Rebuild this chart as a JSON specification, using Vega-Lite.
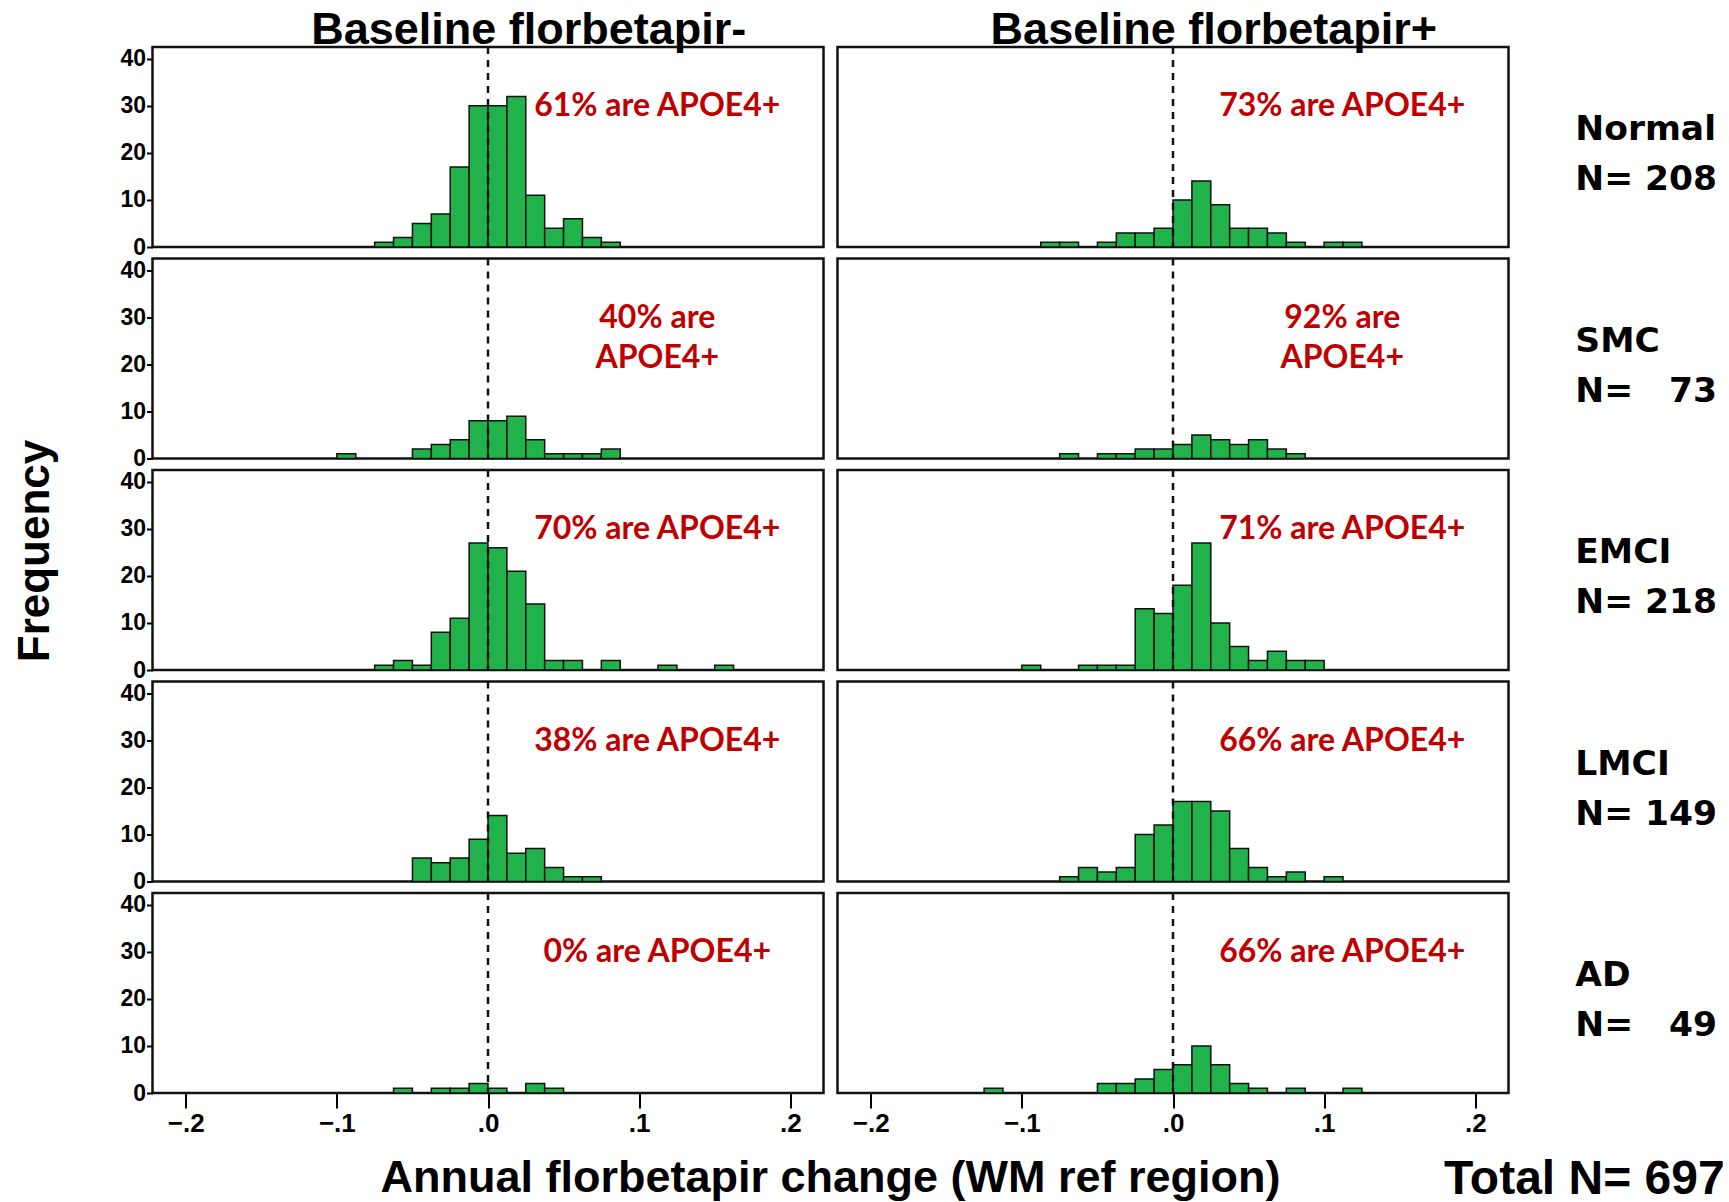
{
  "$schema": "https://vega.github.io/schema/vega-lite/v6.json",
  "background": "white",
  "padding": {"left": 13.5, "top": 6, "right": 5, "bottom": 0},
  "data": {"values": [
    {"s": "Baseline florbetapir-", "g": "Normal|N= 208", "lo": -0.075, "hi": -0.0625, "n": 1},
    {"s": "Baseline florbetapir-", "g": "Normal|N= 208", "lo": -0.0625, "hi": -0.05, "n": 2},
    {"s": "Baseline florbetapir-", "g": "Normal|N= 208", "lo": -0.05, "hi": -0.0375, "n": 5},
    {"s": "Baseline florbetapir-", "g": "Normal|N= 208", "lo": -0.0375, "hi": -0.025, "n": 7},
    {"s": "Baseline florbetapir-", "g": "Normal|N= 208", "lo": -0.025, "hi": -0.0125, "n": 17},
    {"s": "Baseline florbetapir-", "g": "Normal|N= 208", "lo": -0.0125, "hi": 0, "n": 30},
    {"s": "Baseline florbetapir-", "g": "Normal|N= 208", "lo": 0, "hi": 0.0125, "n": 30},
    {"s": "Baseline florbetapir-", "g": "Normal|N= 208", "lo": 0.0125, "hi": 0.025, "n": 32},
    {"s": "Baseline florbetapir-", "g": "Normal|N= 208", "lo": 0.025, "hi": 0.0375, "n": 11},
    {"s": "Baseline florbetapir-", "g": "Normal|N= 208", "lo": 0.0375, "hi": 0.05, "n": 4},
    {"s": "Baseline florbetapir-", "g": "Normal|N= 208", "lo": 0.05, "hi": 0.0625, "n": 6},
    {"s": "Baseline florbetapir-", "g": "Normal|N= 208", "lo": 0.0625, "hi": 0.075, "n": 2},
    {"s": "Baseline florbetapir-", "g": "Normal|N= 208", "lo": 0.075, "hi": 0.0875, "n": 1},
    {"s": "Baseline florbetapir+", "g": "Normal|N= 208", "lo": -0.0875, "hi": -0.075, "n": 1},
    {"s": "Baseline florbetapir+", "g": "Normal|N= 208", "lo": -0.075, "hi": -0.0625, "n": 1},
    {"s": "Baseline florbetapir+", "g": "Normal|N= 208", "lo": -0.05, "hi": -0.0375, "n": 1},
    {"s": "Baseline florbetapir+", "g": "Normal|N= 208", "lo": -0.0375, "hi": -0.025, "n": 3},
    {"s": "Baseline florbetapir+", "g": "Normal|N= 208", "lo": -0.025, "hi": -0.0125, "n": 3},
    {"s": "Baseline florbetapir+", "g": "Normal|N= 208", "lo": -0.0125, "hi": 0, "n": 4},
    {"s": "Baseline florbetapir+", "g": "Normal|N= 208", "lo": 0, "hi": 0.0125, "n": 10},
    {"s": "Baseline florbetapir+", "g": "Normal|N= 208", "lo": 0.0125, "hi": 0.025, "n": 14},
    {"s": "Baseline florbetapir+", "g": "Normal|N= 208", "lo": 0.025, "hi": 0.0375, "n": 9},
    {"s": "Baseline florbetapir+", "g": "Normal|N= 208", "lo": 0.0375, "hi": 0.05, "n": 4},
    {"s": "Baseline florbetapir+", "g": "Normal|N= 208", "lo": 0.05, "hi": 0.0625, "n": 4},
    {"s": "Baseline florbetapir+", "g": "Normal|N= 208", "lo": 0.0625, "hi": 0.075, "n": 3},
    {"s": "Baseline florbetapir+", "g": "Normal|N= 208", "lo": 0.075, "hi": 0.0875, "n": 1},
    {"s": "Baseline florbetapir+", "g": "Normal|N= 208", "lo": 0.1, "hi": 0.1125, "n": 1},
    {"s": "Baseline florbetapir+", "g": "Normal|N= 208", "lo": 0.1125, "hi": 0.125, "n": 1},
    {"s": "Baseline florbetapir-", "g": "SMC|N= \u200773", "lo": -0.1, "hi": -0.0875, "n": 1},
    {"s": "Baseline florbetapir-", "g": "SMC|N= \u200773", "lo": -0.05, "hi": -0.0375, "n": 2},
    {"s": "Baseline florbetapir-", "g": "SMC|N= \u200773", "lo": -0.0375, "hi": -0.025, "n": 3},
    {"s": "Baseline florbetapir-", "g": "SMC|N= \u200773", "lo": -0.025, "hi": -0.0125, "n": 4},
    {"s": "Baseline florbetapir-", "g": "SMC|N= \u200773", "lo": -0.0125, "hi": 0, "n": 8},
    {"s": "Baseline florbetapir-", "g": "SMC|N= \u200773", "lo": 0, "hi": 0.0125, "n": 8},
    {"s": "Baseline florbetapir-", "g": "SMC|N= \u200773", "lo": 0.0125, "hi": 0.025, "n": 9},
    {"s": "Baseline florbetapir-", "g": "SMC|N= \u200773", "lo": 0.025, "hi": 0.0375, "n": 4},
    {"s": "Baseline florbetapir-", "g": "SMC|N= \u200773", "lo": 0.0375, "hi": 0.05, "n": 1},
    {"s": "Baseline florbetapir-", "g": "SMC|N= \u200773", "lo": 0.05, "hi": 0.0625, "n": 1},
    {"s": "Baseline florbetapir-", "g": "SMC|N= \u200773", "lo": 0.0625, "hi": 0.075, "n": 1},
    {"s": "Baseline florbetapir-", "g": "SMC|N= \u200773", "lo": 0.075, "hi": 0.0875, "n": 2},
    {"s": "Baseline florbetapir+", "g": "SMC|N= \u200773", "lo": -0.075, "hi": -0.0625, "n": 1},
    {"s": "Baseline florbetapir+", "g": "SMC|N= \u200773", "lo": -0.05, "hi": -0.0375, "n": 1},
    {"s": "Baseline florbetapir+", "g": "SMC|N= \u200773", "lo": -0.0375, "hi": -0.025, "n": 1},
    {"s": "Baseline florbetapir+", "g": "SMC|N= \u200773", "lo": -0.025, "hi": -0.0125, "n": 2},
    {"s": "Baseline florbetapir+", "g": "SMC|N= \u200773", "lo": -0.0125, "hi": 0, "n": 2},
    {"s": "Baseline florbetapir+", "g": "SMC|N= \u200773", "lo": 0, "hi": 0.0125, "n": 3},
    {"s": "Baseline florbetapir+", "g": "SMC|N= \u200773", "lo": 0.0125, "hi": 0.025, "n": 5},
    {"s": "Baseline florbetapir+", "g": "SMC|N= \u200773", "lo": 0.025, "hi": 0.0375, "n": 4},
    {"s": "Baseline florbetapir+", "g": "SMC|N= \u200773", "lo": 0.0375, "hi": 0.05, "n": 3},
    {"s": "Baseline florbetapir+", "g": "SMC|N= \u200773", "lo": 0.05, "hi": 0.0625, "n": 4},
    {"s": "Baseline florbetapir+", "g": "SMC|N= \u200773", "lo": 0.0625, "hi": 0.075, "n": 2},
    {"s": "Baseline florbetapir+", "g": "SMC|N= \u200773", "lo": 0.075, "hi": 0.0875, "n": 1},
    {"s": "Baseline florbetapir-", "g": "EMCI|N= 218", "lo": -0.075, "hi": -0.0625, "n": 1},
    {"s": "Baseline florbetapir-", "g": "EMCI|N= 218", "lo": -0.0625, "hi": -0.05, "n": 2},
    {"s": "Baseline florbetapir-", "g": "EMCI|N= 218", "lo": -0.05, "hi": -0.0375, "n": 1},
    {"s": "Baseline florbetapir-", "g": "EMCI|N= 218", "lo": -0.0375, "hi": -0.025, "n": 8},
    {"s": "Baseline florbetapir-", "g": "EMCI|N= 218", "lo": -0.025, "hi": -0.0125, "n": 11},
    {"s": "Baseline florbetapir-", "g": "EMCI|N= 218", "lo": -0.0125, "hi": 0, "n": 27},
    {"s": "Baseline florbetapir-", "g": "EMCI|N= 218", "lo": 0, "hi": 0.0125, "n": 26},
    {"s": "Baseline florbetapir-", "g": "EMCI|N= 218", "lo": 0.0125, "hi": 0.025, "n": 21},
    {"s": "Baseline florbetapir-", "g": "EMCI|N= 218", "lo": 0.025, "hi": 0.0375, "n": 14},
    {"s": "Baseline florbetapir-", "g": "EMCI|N= 218", "lo": 0.0375, "hi": 0.05, "n": 2},
    {"s": "Baseline florbetapir-", "g": "EMCI|N= 218", "lo": 0.05, "hi": 0.0625, "n": 2},
    {"s": "Baseline florbetapir-", "g": "EMCI|N= 218", "lo": 0.075, "hi": 0.0875, "n": 2},
    {"s": "Baseline florbetapir-", "g": "EMCI|N= 218", "lo": 0.1125, "hi": 0.125, "n": 1},
    {"s": "Baseline florbetapir-", "g": "EMCI|N= 218", "lo": 0.15, "hi": 0.1625, "n": 1},
    {"s": "Baseline florbetapir+", "g": "EMCI|N= 218", "lo": -0.1, "hi": -0.0875, "n": 1},
    {"s": "Baseline florbetapir+", "g": "EMCI|N= 218", "lo": -0.0625, "hi": -0.05, "n": 1},
    {"s": "Baseline florbetapir+", "g": "EMCI|N= 218", "lo": -0.05, "hi": -0.0375, "n": 1},
    {"s": "Baseline florbetapir+", "g": "EMCI|N= 218", "lo": -0.0375, "hi": -0.025, "n": 1},
    {"s": "Baseline florbetapir+", "g": "EMCI|N= 218", "lo": -0.025, "hi": -0.0125, "n": 13},
    {"s": "Baseline florbetapir+", "g": "EMCI|N= 218", "lo": -0.0125, "hi": 0, "n": 12},
    {"s": "Baseline florbetapir+", "g": "EMCI|N= 218", "lo": 0, "hi": 0.0125, "n": 18},
    {"s": "Baseline florbetapir+", "g": "EMCI|N= 218", "lo": 0.0125, "hi": 0.025, "n": 27},
    {"s": "Baseline florbetapir+", "g": "EMCI|N= 218", "lo": 0.025, "hi": 0.0375, "n": 10},
    {"s": "Baseline florbetapir+", "g": "EMCI|N= 218", "lo": 0.0375, "hi": 0.05, "n": 5},
    {"s": "Baseline florbetapir+", "g": "EMCI|N= 218", "lo": 0.05, "hi": 0.0625, "n": 2},
    {"s": "Baseline florbetapir+", "g": "EMCI|N= 218", "lo": 0.0625, "hi": 0.075, "n": 4},
    {"s": "Baseline florbetapir+", "g": "EMCI|N= 218", "lo": 0.075, "hi": 0.0875, "n": 2},
    {"s": "Baseline florbetapir+", "g": "EMCI|N= 218", "lo": 0.0875, "hi": 0.1, "n": 2},
    {"s": "Baseline florbetapir-", "g": "LMCI|N= 149", "lo": -0.05, "hi": -0.0375, "n": 5},
    {"s": "Baseline florbetapir-", "g": "LMCI|N= 149", "lo": -0.0375, "hi": -0.025, "n": 4},
    {"s": "Baseline florbetapir-", "g": "LMCI|N= 149", "lo": -0.025, "hi": -0.0125, "n": 5},
    {"s": "Baseline florbetapir-", "g": "LMCI|N= 149", "lo": -0.0125, "hi": 0, "n": 9},
    {"s": "Baseline florbetapir-", "g": "LMCI|N= 149", "lo": 0, "hi": 0.0125, "n": 14},
    {"s": "Baseline florbetapir-", "g": "LMCI|N= 149", "lo": 0.0125, "hi": 0.025, "n": 6},
    {"s": "Baseline florbetapir-", "g": "LMCI|N= 149", "lo": 0.025, "hi": 0.0375, "n": 7},
    {"s": "Baseline florbetapir-", "g": "LMCI|N= 149", "lo": 0.0375, "hi": 0.05, "n": 3},
    {"s": "Baseline florbetapir-", "g": "LMCI|N= 149", "lo": 0.05, "hi": 0.0625, "n": 1},
    {"s": "Baseline florbetapir-", "g": "LMCI|N= 149", "lo": 0.0625, "hi": 0.075, "n": 1},
    {"s": "Baseline florbetapir+", "g": "LMCI|N= 149", "lo": -0.075, "hi": -0.0625, "n": 1},
    {"s": "Baseline florbetapir+", "g": "LMCI|N= 149", "lo": -0.0625, "hi": -0.05, "n": 3},
    {"s": "Baseline florbetapir+", "g": "LMCI|N= 149", "lo": -0.05, "hi": -0.0375, "n": 2},
    {"s": "Baseline florbetapir+", "g": "LMCI|N= 149", "lo": -0.0375, "hi": -0.025, "n": 3},
    {"s": "Baseline florbetapir+", "g": "LMCI|N= 149", "lo": -0.025, "hi": -0.0125, "n": 10},
    {"s": "Baseline florbetapir+", "g": "LMCI|N= 149", "lo": -0.0125, "hi": 0, "n": 12},
    {"s": "Baseline florbetapir+", "g": "LMCI|N= 149", "lo": 0, "hi": 0.0125, "n": 17},
    {"s": "Baseline florbetapir+", "g": "LMCI|N= 149", "lo": 0.0125, "hi": 0.025, "n": 17},
    {"s": "Baseline florbetapir+", "g": "LMCI|N= 149", "lo": 0.025, "hi": 0.0375, "n": 15},
    {"s": "Baseline florbetapir+", "g": "LMCI|N= 149", "lo": 0.0375, "hi": 0.05, "n": 7},
    {"s": "Baseline florbetapir+", "g": "LMCI|N= 149", "lo": 0.05, "hi": 0.0625, "n": 3},
    {"s": "Baseline florbetapir+", "g": "LMCI|N= 149", "lo": 0.0625, "hi": 0.075, "n": 1},
    {"s": "Baseline florbetapir+", "g": "LMCI|N= 149", "lo": 0.075, "hi": 0.0875, "n": 2},
    {"s": "Baseline florbetapir+", "g": "LMCI|N= 149", "lo": 0.1, "hi": 0.1125, "n": 1},
    {"s": "Baseline florbetapir-", "g": "AD|N= \u200749", "lo": -0.0625, "hi": -0.05, "n": 1},
    {"s": "Baseline florbetapir-", "g": "AD|N= \u200749", "lo": -0.0375, "hi": -0.025, "n": 1},
    {"s": "Baseline florbetapir-", "g": "AD|N= \u200749", "lo": -0.025, "hi": -0.0125, "n": 1},
    {"s": "Baseline florbetapir-", "g": "AD|N= \u200749", "lo": -0.0125, "hi": 0, "n": 2},
    {"s": "Baseline florbetapir-", "g": "AD|N= \u200749", "lo": 0, "hi": 0.0125, "n": 1},
    {"s": "Baseline florbetapir-", "g": "AD|N= \u200749", "lo": 0.025, "hi": 0.0375, "n": 2},
    {"s": "Baseline florbetapir-", "g": "AD|N= \u200749", "lo": 0.0375, "hi": 0.05, "n": 1},
    {"s": "Baseline florbetapir+", "g": "AD|N= \u200749", "lo": -0.125, "hi": -0.1125, "n": 1},
    {"s": "Baseline florbetapir+", "g": "AD|N= \u200749", "lo": -0.05, "hi": -0.0375, "n": 2},
    {"s": "Baseline florbetapir+", "g": "AD|N= \u200749", "lo": -0.0375, "hi": -0.025, "n": 2},
    {"s": "Baseline florbetapir+", "g": "AD|N= \u200749", "lo": -0.025, "hi": -0.0125, "n": 3},
    {"s": "Baseline florbetapir+", "g": "AD|N= \u200749", "lo": -0.0125, "hi": 0, "n": 5},
    {"s": "Baseline florbetapir+", "g": "AD|N= \u200749", "lo": 0, "hi": 0.0125, "n": 6},
    {"s": "Baseline florbetapir+", "g": "AD|N= \u200749", "lo": 0.0125, "hi": 0.025, "n": 10},
    {"s": "Baseline florbetapir+", "g": "AD|N= \u200749", "lo": 0.025, "hi": 0.0375, "n": 6},
    {"s": "Baseline florbetapir+", "g": "AD|N= \u200749", "lo": 0.0375, "hi": 0.05, "n": 2},
    {"s": "Baseline florbetapir+", "g": "AD|N= \u200749", "lo": 0.05, "hi": 0.0625, "n": 1},
    {"s": "Baseline florbetapir+", "g": "AD|N= \u200749", "lo": 0.075, "hi": 0.0875, "n": 1},
    {"s": "Baseline florbetapir+", "g": "AD|N= \u200749", "lo": 0.1125, "hi": 0.125, "n": 1},
    {"s": "Baseline florbetapir-", "g": "Normal|N= 208", "note": "61% are APOE4+"},
    {"s": "Baseline florbetapir+", "g": "Normal|N= 208", "note": "73% are APOE4+"},
    {"s": "Baseline florbetapir-", "g": "SMC|N= \u200773", "note": "40% are|APOE4+"},
    {"s": "Baseline florbetapir+", "g": "SMC|N= \u200773", "note": "92% are|APOE4+"},
    {"s": "Baseline florbetapir-", "g": "EMCI|N= 218", "note": "70% are APOE4+"},
    {"s": "Baseline florbetapir+", "g": "EMCI|N= 218", "note": "71% are APOE4+"},
    {"s": "Baseline florbetapir-", "g": "LMCI|N= 149", "note": "38% are APOE4+"},
    {"s": "Baseline florbetapir+", "g": "LMCI|N= 149", "note": "66% are APOE4+"},
    {"s": "Baseline florbetapir-", "g": "AD|N= \u200749", "note": "0% are APOE4+"},
    {"s": "Baseline florbetapir+", "g": "AD|N= \u200749", "note": "66% are APOE4+"}
  ]},
  "bounds": "flush",
  "facet": {
    "row": {
      "field": "g", "type": "nominal", "title": "Frequency",
      "sort": ["Normal|N= 208", "SMC|N= \u200773", "EMCI|N= 218", "LMCI|N= 149", "AD|N= \u200749"],
      "header": {
        "labelOrient": "right", "labelAngle": 0, "labelAlign": "left", "labelBaseline": "bottom",
        "labelFont": "DejaVu Sans", "labelFontWeight": "bold", "labelFontSize": 34.5, "labelColor": "black",
        "labelPadding": -75, "labelLineHeight": 50, "labelExpr": "split(datum.value, '|')",
        "titleOrient": "left", "titleFont": "Liberation Sans", "titleFontSize": 44, "titleFontWeight": "bold",
        "titleColor": "black", "titlePadding": 52
      }
    },
    "column": {
      "field": "s", "type": "nominal", "title": "Annual florbetapir change (WM ref region)",
      "sort": ["Baseline florbetapir-", "Baseline florbetapir+"],
      "header": {
        "labels": false,
        "titleOrient": "bottom", "titleFont": "Liberation Sans", "titleFontSize": 45, "titleFontWeight": "bold",
        "titleColor": "black", "titlePadding": 10
      }
    }
  },
  "spacing": {"row": 11.5, "column": 14},
  "spec": {
    "width": 671,
    "height": 200,
    "layer": [
      {
        "transform": [{"filter": "isValid(datum.n)"}],
        "mark": {"type": "bar", "fill": "#22b24c", "stroke": "#111111", "strokeWidth": 1.5},
        "encoding": {
          "x": {"field": "lo", "type": "quantitative",
                "scale": {"domain": [-0.222, 0.222], "nice": false, "zero": false},
                "axis": {"title": null, "values": [-0.2, -0.1, 0, 0.1, 0.2],
                         "labelExpr": "replace(format(datum.value, '.1f'), '0.', '.')",
                         "tickSize": 15, "tickWidth": 2, "tickColor": "black", "domain": false, "grid": false,
                         "labelFont": "Liberation Sans", "labelFontSize": 26, "labelFontWeight": "bold",
                         "labelColor": "black", "labelPadding": 2}},
          "x2": {"field": "hi"},
          "y": {"field": "n", "type": "quantitative",
                "scale": {"domain": [0, 42.5], "nice": false},
                "axis": {"title": null, "values": [0, 10, 20, 30, 40],
                         "tickSize": 6, "tickWidth": 2, "tickColor": "black", "domain": false, "grid": false,
                         "labelFont": "Liberation Sans", "labelFontSize": 23, "labelFontWeight": "bold",
                         "labelColor": "black", "labelPadding": 1}},
          "y2": {"datum": 0}
        }
      },
      {
        "transform": [{"filter": "isValid(datum.note)"}],
        "mark": {"type": "rule", "color": "#111111", "strokeWidth": 2.5, "strokeDash": [7, 6]},
        "encoding": {"x": {"datum": 0}}
      },
      {
        "transform": [{"filter": "isValid(datum.note)"}],
        "mark": {"type": "text", "font": "Lato", "fontWeight": "bold", "fontSize": 32, "color": "#c00000",
                 "align": "center", "baseline": "top", "lineBreak": "|", "lineHeight": 40},
        "encoding": {
          "x": {"datum": 0.112},
          "y": {"datum": 33.1},
          "text": {"field": "note", "type": "nominal"}
        }
      },
      {
        "transform": [{"filter": "isValid(datum.note) && datum.g == 'Normal|N= 208'"}],
        "mark": {"type": "text", "font": "Liberation Sans", "fontWeight": "bold", "fontSize": 45, "color": "black",
                 "align": "center", "baseline": "alphabetic"},
        "encoding": {
          "x": {"datum": 0.027},
          "y": {"datum": 43.2},
          "text": {"field": "s", "type": "nominal"}
        }
      }
    ]
  },
  "title": {"text": "Total N= 697", "orient": "bottom", "anchor": "end", "font": "Liberation Sans",
            "fontSize": 48, "fontWeight": "bold", "color": "black", "offset": -45, "dx": 7.5},
  "config": {
    "view": {"stroke": "#111111", "strokeWidth": 2.5},
    "font": "Liberation Sans"
  }
}
